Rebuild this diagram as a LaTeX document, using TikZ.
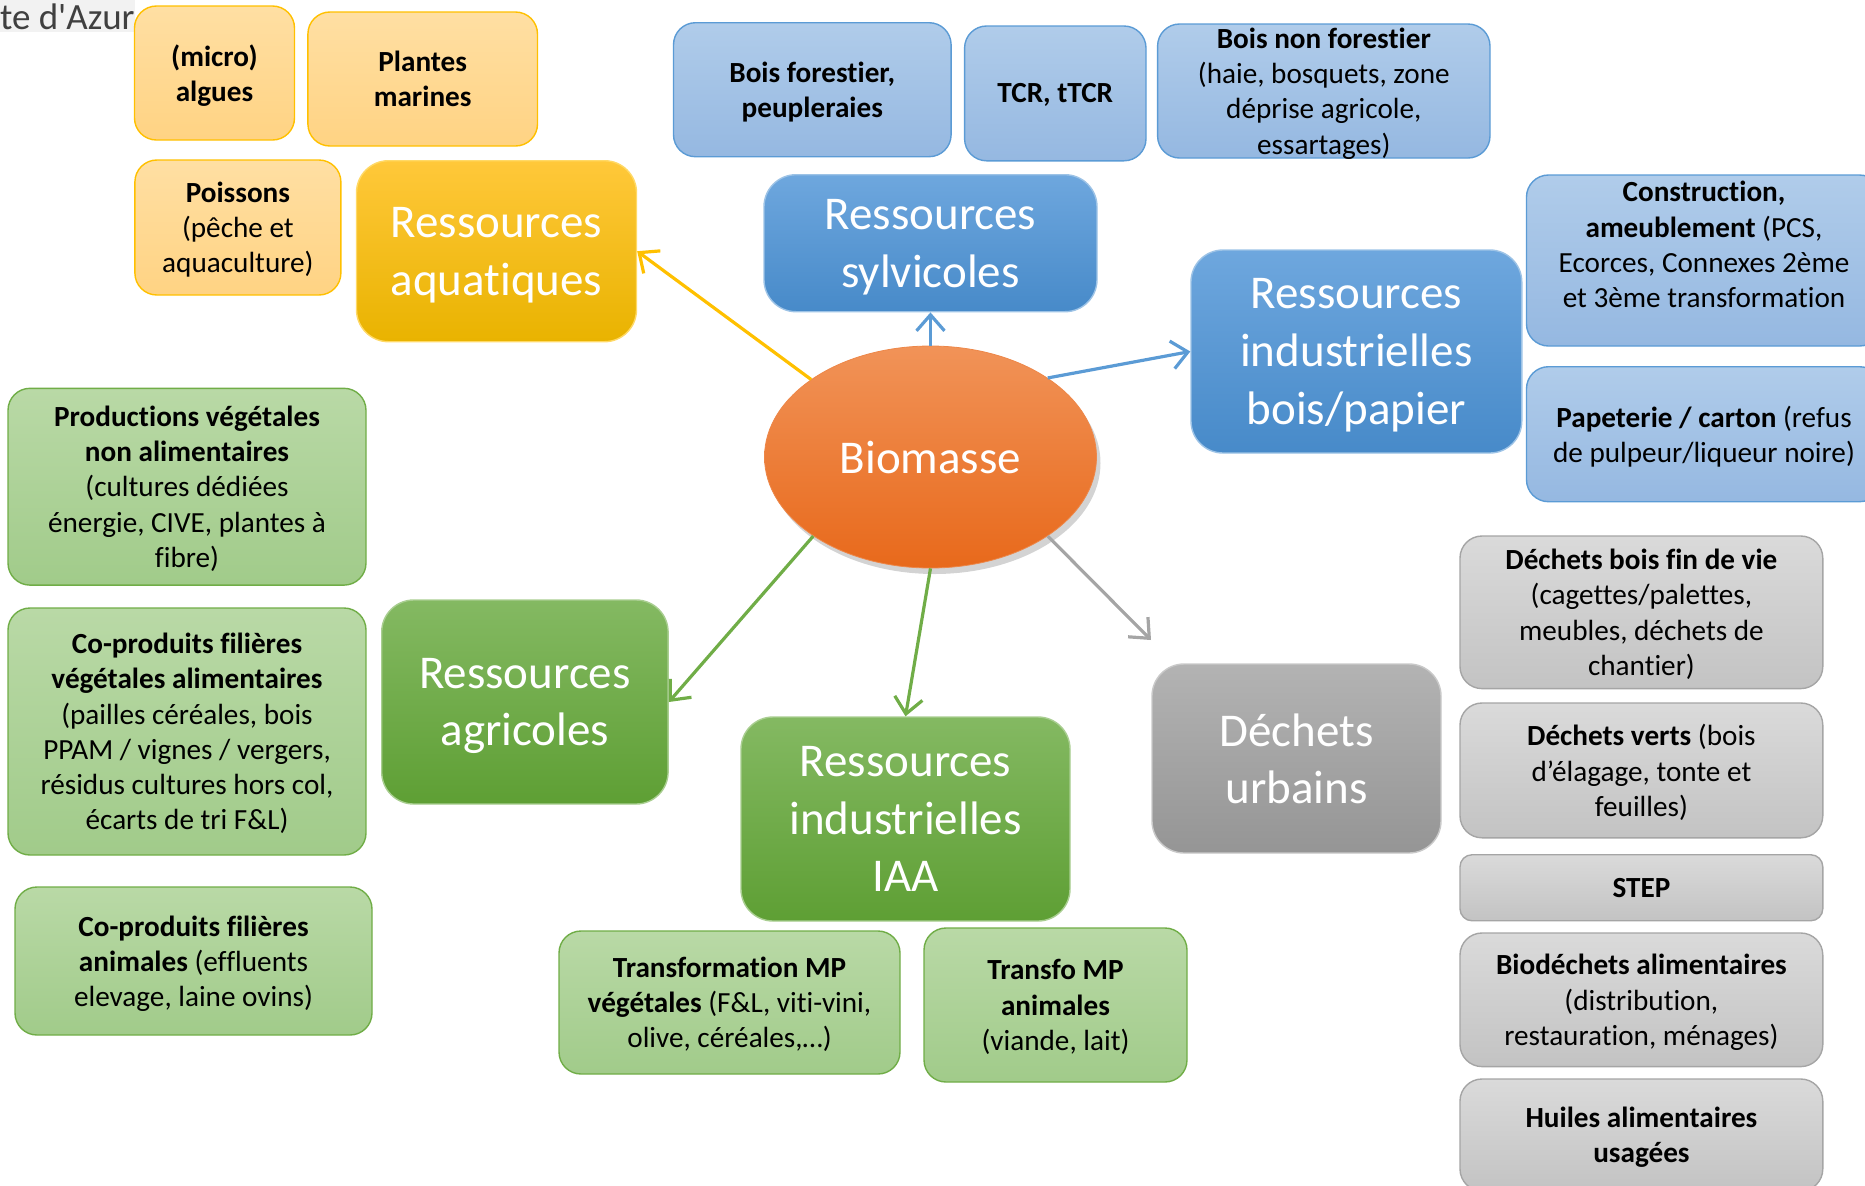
\documentclass[tikz,border=0pt]{standalone}
\usepackage{fontspec}
\setmainfont{Carlito}[Ligatures={TeX,NoCommon}]
\newfontfamily\azurfont{Carlito}[Ligatures=NoCommon]
\usetikzlibrary{arrows.meta,shadows,shapes.geometric}

\definecolor{orBord}{HTML}{FFC000}
\definecolor{orHaut}{HTML}{FFDFA3}
\definecolor{orBas}{HTML}{FFD383}
\definecolor{orFonceHaut}{HTML}{FFC83A}
\definecolor{orFonceBas}{HTML}{E9B300}
\definecolor{bleuBord}{HTML}{5B9BD5}
\definecolor{bleuHaut}{HTML}{B0CCEA}
\definecolor{bleuBas}{HTML}{95B8E1}
\definecolor{bleuFonceHaut}{HTML}{6EA7DE}
\definecolor{bleuFonceBas}{HTML}{478AC9}
\definecolor{vertBord}{HTML}{70AD47}
\definecolor{vertHaut}{HTML}{B9D9A6}
\definecolor{vertBas}{HTML}{A1CB8A}
\definecolor{vertFonceHaut}{HTML}{84B962}
\definecolor{vertFonceBas}{HTML}{5E9F34}
\definecolor{grisBord}{HTML}{A5A5A5}
\definecolor{grisHaut}{HTML}{DADADA}
\definecolor{grisBas}{HTML}{C3C3C3}
\definecolor{grisFonceHaut}{HTML}{B3B3B3}
\definecolor{grisFonceBas}{HTML}{959595}
\definecolor{bioHaut}{HTML}{F19358}
\definecolor{bioBas}{HTML}{E8691B}

\begin{document}
\begin{tikzpicture}[
        x                       = 0.5pt,
        y                       = -0.5pt,
        petit/.style            = {rectangle, rounded corners=11pt, line width=0.7pt, align=center, inner sep=0pt, text depth=-1pt, font=\fontsize{14.6}{17.6}\selectfont, text=black},
        grand/.style            = {rectangle, rounded corners=16pt, line width=0.7pt, align=center, inner sep=0pt, text depth=-1pt, font=\fontsize{23.5}{28.8}\selectfont, text=white},
        jaune/.style            = {petit, draw=orBord, top color=orHaut, bottom color=orBas},
        jaune fonce/.style      = {grand, draw=orBord!60, top color=orFonceHaut, bottom color=orFonceBas},
        bleu/.style             = {petit, draw=bleuBord, top color=bleuHaut, bottom color=bleuBas},
        bleu fonce/.style       = {grand, draw=bleuBord!60, top color=bleuFonceHaut, bottom color=bleuFonceBas},
        vert/.style             = {petit, draw=vertBord, top color=vertHaut, bottom color=vertBas},
        vert fonce/.style       = {grand, draw=vertBord!60, top color=vertFonceHaut, bottom color=vertFonceBas},
        gris/.style             = {petit, draw=grisBord, top color=grisHaut, bottom color=grisBas},
        gris fonce/.style       = {grand, draw=grisBord!60, top color=grisFonceHaut, bottom color=grisFonceBas},
        fleche/.style           = {line width=1.6pt, -{Straight Barb[length=8pt, width=14pt, line width=1.6pt]}},
        % sloped
      ]
        \useasboundingbox (0,0) rectangle (1865,1185);

        \node[anchor=north east, fill=black!5, text=black!75, inner sep=0pt, minimum height=16pt, font=\azurfont\fontsize{18.5}{20}\selectfont] (azur) at (135,0) {te d'Azur};

        % centre
        \node[ellipse, minimum width=166pt, minimum height=111pt, inner sep=0pt, top color=bioHaut, bottom color=bioBas, draw=bioBas!80,
              drop shadow={shadow xshift=2pt, shadow yshift=-3pt, opacity=0.35},
              text=white, text depth=-1pt, font=\fontsize{23.5}{28.8}\selectfont] (bio) at (930.5,457) {Biomasse};

        % ressources aquatiques
        \node[jaune, minimum width=80pt, minimum height=67pt] (algues) at (214.5,73) {\textbf{(micro)}\\\textbf{algues}};
        \node[jaune, minimum width=114.8pt, minimum height=67pt] (plantes) at (422.7,79) {\textbf{Plantes}\\\textbf{marines}};
        \node[jaune, minimum width=103pt, minimum height=67.5pt] (poissons) at (237.9,227.5) {\textbf{Poissons}\\(pêche et\\aquaculture)};
        \node[jaune fonce, minimum width=140pt, minimum height=90.5pt] (aqua) at (496.5,251.2) {Ressources\\aquatiques};

        % ressources sylvicoles
        \node[bleu, minimum width=138.8pt, minimum height=67pt] (boisfor) at (812.3,89.7) {\textbf{Bois forestier,}\\\textbf{peupleraies}};
        \node[bleu, minimum width=90.7pt, minimum height=67.4pt] (tcr) at (1055.3,93.4) {\textbf{TCR, tTCR}};
        \node[bleu, minimum width=166.2pt, minimum height=67pt] (boisnon) at (1323.8,91) {\textbf{Bois non forestier}\\(haie, bosquets, zone\\déprise agricole,\\essartages)};
        \node[bleu fonce, minimum width=166.5pt, minimum height=68.5pt] (sylv) at (930.5,243.2) {Ressources\\sylvicoles};

        % bois/papier
        \node[bleu fonce, minimum width=165.4pt, minimum height=101.5pt] (boispap) at (1356.4,351.5) {Ressources\\industrielles\\bois/papier};
        \node[bleu, minimum width=177.5pt, minimum height=85.5pt, text depth=16pt] (constr) at (1704,260.5) {\textbf{Construction,}\\\textbf{ameublement} (PCS,\\Ecorces, Connexes 2ème\\et 3ème transformation};
        \node[bleu, minimum width=177.5pt, minimum height=67.5pt] (papet) at (1704,434.2) {\textbf{Papeterie / carton} (refus\\de pulpeur/liqueur noire)};

        % ressources agricoles
        \node[vert, minimum width=179pt, minimum height=98.4pt] (prodveg) at (187,486.7) {\textbf{Productions végétales}\\\textbf{non alimentaires}\\(cultures dédiées\\énergie, CIVE, plantes à\\fibre)};
        \node[vert, minimum width=179pt, minimum height=123.5pt] (coveg) at (187,731.5) {\textbf{Co-produits filières}\\\textbf{végétales alimentaires}\\(pailles céréales, bois\\PPAM / vignes / vergers,\\résidus cultures hors col,\\écarts de tri F\&L)};
        \node[vert, minimum width=178.5pt, minimum height=74pt] (coanim) at (193.5,961) {\textbf{Co-produits filières}\\\textbf{animales} (effluents\\elevage, laine ovins)};
        \node[vert fonce, minimum width=143.2pt, minimum height=102pt] (agri) at (524.9,702) {Ressources\\agricoles};

        % IAA
        \node[vert fonce, minimum width=164.5pt, minimum height=102pt] (iaa) at (905.5,819) {Ressources\\industrielles\\IAA};
        \node[vert, minimum width=170.5pt, minimum height=71.5pt] (transveg) at (729.5,1002.5) {\textbf{Transformation MP}\\\textbf{végétales} (F\&L, viti-vini,\\olive, céréales,…)};
        \node[vert, minimum width=131.5pt, minimum height=77pt] (transanim) at (1055.5,1005) {\textbf{Transfo MP}\\\textbf{animales}\\(viande, lait)};

        % dechets urbains
        \node[gris fonce, minimum width=144.5pt, minimum height=94.5pt] (dechurb) at (1296.5,758.5) {Déchets\\urbains};
        \node[gris, minimum width=181.4pt, minimum height=76.3pt] (dechbois) at (1641.4,612.3) {\textbf{Déchets bois fin de vie}\\(cagettes/palettes,\\meubles, déchets de\\chantier)};
        \node[gris, minimum width=181.4pt, minimum height=67.4pt] (dechverts) at (1641.4,770.4) {\textbf{Déchets verts} (bois\\d’élagage, tonte et\\feuilles)};
        \node[gris, rounded corners=6pt, minimum width=181.4pt, minimum height=33pt] (step) at (1641.4,887.75) {\textbf{STEP}};
        \node[gris, minimum width=181.4pt, minimum height=66.8pt] (biodech) at (1641.4,999.8) {\textbf{Biodéchets alimentaires}\\(distribution,\\restauration, ménages)};
        \node[gris, minimum width=181.4pt, minimum height=56pt] (huiles) at (1641.4,1135) {\textbf{Huiles alimentaires}\\\textbf{usagées}};

        \coordinate (versurb) at (1151,640);

        \draw[fleche, orBord]   (bio.147) -- (aqua.east);
        \draw[fleche, bleuBord] (bio.north) -- (sylv.south);
        \draw[fleche, bleuBord] (bio.34) -- (boispap.west);
        \draw[fleche, vertBord] (bio.214) -- (agri.east);
        \draw[fleche, vertBord] (bio.south) -- (iaa.north);
        \draw[fleche, grisBord] (bio.-34) -- (versurb);
    \end{tikzpicture}
\end{document}
